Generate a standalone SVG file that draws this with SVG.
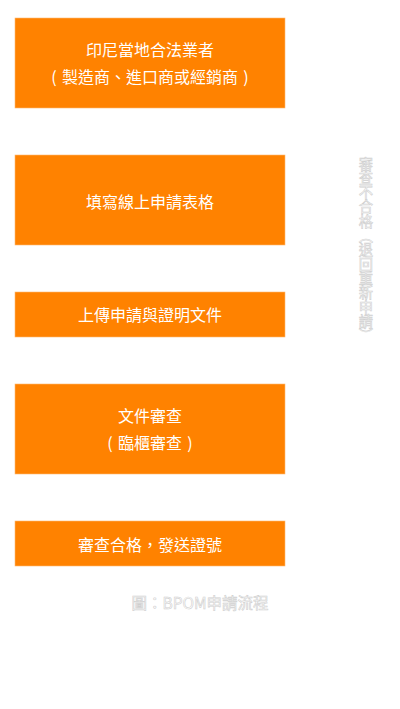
<svg xmlns="http://www.w3.org/2000/svg" width="400" height="709" viewBox="0 0 400 709">
<style>
.box{fill:#FF8200;stroke:#FFB870;stroke-width:0.6}
.t{font-family:"Noto Sans CJK TC","Noto Sans CJK SC",sans-serif;font-size:16px;fill:#FFFFFF;text-anchor:middle;dominant-baseline:central}
.ghost{font-family:"Noto Sans CJK TC","Noto Sans CJK SC",sans-serif;font-size:14.3px;fill:#FFFFFF;stroke:#CFCFCF;stroke-width:0.6}
.con{stroke:#FFFFFF;stroke-width:1.5;fill:none}
</style>
<rect width="400" height="709" fill="#FFFFFF"/>
<g id="connectors">
<line class="con" x1="150" y1="108" x2="150" y2="155"/>
<line class="con" x1="150" y1="245" x2="150" y2="292"/>
<line class="con" x1="150" y1="337" x2="150" y2="384"/>
<line class="con" x1="150" y1="474" x2="150" y2="521"/>
</g>
<g id="node1">
<rect class="box" x="15" y="18" width="270" height="90"/>
<text class="t" x="150" y="49">印尼當地合法業者</text>
<text class="t" x="54" y="76">(</text>
<text class="t" x="150" y="76">製造商、進口商或經銷商</text>
<text class="t" x="246" y="76">)</text>
</g>
<g id="node2">
<rect class="box" x="15" y="155" width="270" height="90"/>
<text class="t" x="150" y="201">填寫線上申請表格</text>
</g>
<g id="node3">
<rect class="box" x="15" y="292" width="270" height="45"/>
<text class="t" x="150" y="314">上傳申請與證明文件</text>
</g>
<g id="node4">
<rect class="box" x="15" y="384" width="270" height="90"/>
<text class="t" x="150" y="415">文件審查</text>
<text class="t" x="110" y="442">(</text>
<text class="t" x="150" y="442">臨櫃審查</text>
<text class="t" x="190" y="442">)</text>
</g>
<g id="node5">
<rect class="box" x="15" y="521" width="270" height="45"/>
<text class="t" x="150" y="544">審查合格，發送證號</text>
</g>
<g id="reject-note">
<text class="ghost" x="366" y="157" style="writing-mode:vertical-rl;text-orientation:upright">審查不合格（退回重新申請）</text>
</g>
<g id="caption">
<text class="ghost" x="200" y="602" text-anchor="middle" dominant-baseline="central" style="font-size:15.5px">圖：BPOM申請流程</text>
</g>
</svg>
